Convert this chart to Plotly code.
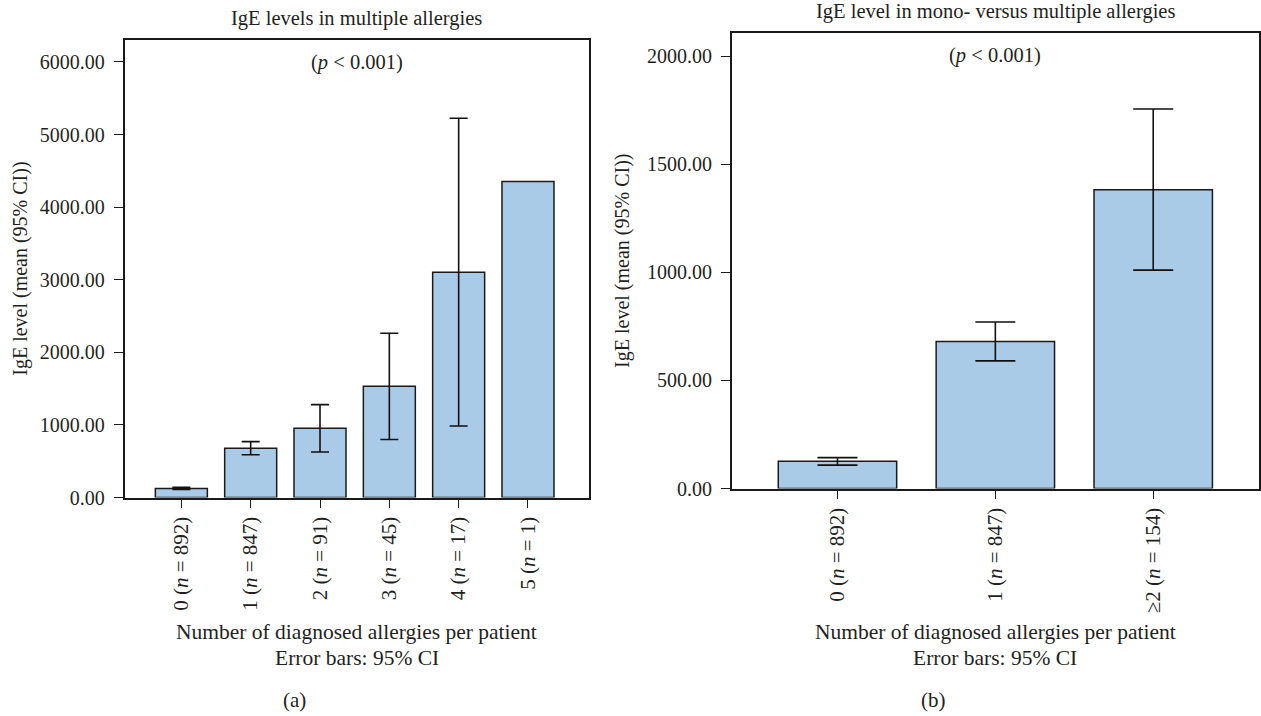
import plotly.graph_objects as go

# ---- data ----
left_labels = ["0 (<i>n</i> = 892)", "1 (<i>n</i> = 847)", "2 (<i>n</i> = 91)",
               "3 (<i>n</i> = 45)", "4 (<i>n</i> = 17)", "5 (<i>n</i> = 1)"]
left_mean = [125, 680, 953, 1533, 3103, 4355]
left_ci_low = [110, 590, 627, 800, 985, None]
left_ci_high = [140, 770, 1280, 2262, 5225, None]

right_labels = ["0 (<i>n</i> = 892)", "1 (<i>n</i> = 847)", "≥2 (<i>n</i> = 154)"]
right_mean = [126, 680, 1382]
right_ci_low = [108, 590, 1010]
right_ci_high = [143, 770, 1755]

W, H = 1261, 705          # effective frame used for placing things (paper fractions)
FONT = "Liberation Serif"
TXT = "#231f20"
BAR = "#a9cbe7"
EDGE = "#1a1a1a"

fig = go.Figure()


def add_panel(labels, mean, lo, hi, xa, ya, cap):
    fig.add_trace(go.Bar(
        x=labels, y=mean, width=0.75,
        marker=dict(color=BAR, line=dict(color=EDGE, width=1.5)),
        xaxis=xa, yaxis=ya, showlegend=False, hoverinfo="skip"))
    ex, ey, up, dn = [], [], [], []
    for lab, m, l, h in zip(labels, mean, lo, hi):
        if l is None or h is None:
            continue
        ex.append(lab)
        ey.append(m)
        up.append(h - m)
        dn.append(m - l)
    fig.add_trace(go.Scatter(
        x=ex, y=ey, mode="markers",
        marker=dict(size=1, color="rgba(0,0,0,0)"),
        error_y=dict(type="data", symmetric=False, array=up, arrayminus=dn,
                     color="#111", thickness=1.6, width=cap),
        xaxis=xa, yaxis=ya, showlegend=False, hoverinfo="skip"))


add_panel(left_labels, left_mean, left_ci_low, left_ci_high, "x", "y", 9)
add_panel(right_labels, right_mean, right_ci_low, right_ci_high, "x2", "y2", 20)


def px(x):
    return x / W


def py(y):
    return 1 - y / H


def axis_common(size, standoff=0):
    d = dict(showline=True, linecolor=EDGE, linewidth=1.5, mirror=True,
             ticks="outside", ticklen=9, tickcolor=EDGE, tickwidth=1.2,
             showgrid=False, zeroline=False,
             tickfont=dict(family=FONT, size=size, color=TXT))
    if standoff:
        d["ticklabelstandoff"] = standoff
    return d


L = (124.5, 589.0, 40.0, 497.5)
R = (731.7, 1259.0, 33.3, 488.5)

fig.update_layout(
    autosize=True, margin=dict(l=0, r=0, t=0, b=0, pad=0),
    paper_bgcolor="white", plot_bgcolor="white",
    font=dict(family=FONT, color=TXT), barmode="overlay",
    xaxis=dict(domain=[px(L[0]), px(L[1])], anchor="y", type="category",
               range=[-0.82, 5.88], tickangle=-90, **axis_common(21)),
    yaxis=dict(domain=[py(L[3]), py(L[2])], anchor="x", range=[0, 6303],
               tickvals=[0, 1000, 2000, 3000, 4000, 5000, 6000], tickformat=".2f",
               **axis_common(20, 5)),
    xaxis2=dict(domain=[px(R[0]), px(R[1])], anchor="y2", type="category",
                range=[-0.67, 2.67], tickangle=-90, **axis_common(21)),
    yaxis2=dict(domain=[py(R[3]), py(R[2])], anchor="x2", range=[0, 2105],
                tickvals=[0, 500, 1000, 1500, 2000], tickformat=".2f",
                **axis_common(20, 5)),
)

ann = []


def add(text, x, y, size, angle=0):
    ann.append(dict(text=text, x=px(x), y=py(y), xref="paper", yref="paper",
                    showarrow=False, textangle=angle,
                    font=dict(family=FONT, size=size, color=TXT),
                    xanchor="center", yanchor="middle"))


lc = (L[0] + L[1]) / 2
rc = (R[0] + R[1]) / 2
add("IgE levels in multiple allergies", lc, 18, 20.5)
add("IgE level in mono- versus multiple allergies", rc, 11, 20.5)
add("(<i>p</i> &lt; 0.001)", lc, 62, 20.5)
add("(<i>p</i> &lt; 0.001)", rc, 55, 20.5)
add("IgE level (mean (95% CI))", 21, (L[2] + L[3]) / 2, 20, angle=-90)
add("IgE level (mean (95% CI))", 623, (R[2] + R[3]) / 2, 20, angle=-90)
for c, lab in ((lc, "(a)"), (rc, "(b)")):
    add("Number of diagnosed allergies per patient", c, 632, 21.5)
    add("Error bars: 95% CI", c, 658, 21.5)
    add(lab, c - 62, 700, 21)

fig.update_layout(annotations=ann)
fig.write_html(
    "out.html",
    config={"displayModeBar": False, "responsive": True},
    default_width="100vw", default_height="100vh",
    post_script="document.body.style.margin='0';document.body.style.overflow='hidden';"
                "document.documentElement.style.overflow='hidden';",
)
